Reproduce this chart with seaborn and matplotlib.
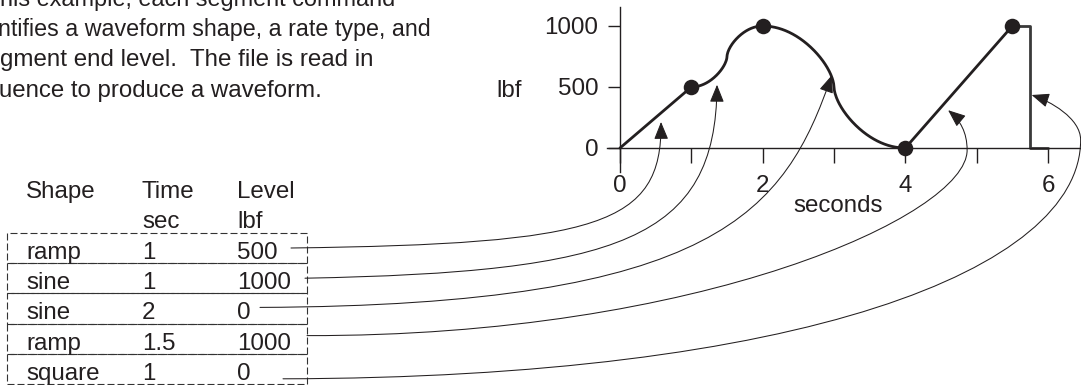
import numpy as np
import pandas as pd
import matplotlib
matplotlib.use("Agg")
import matplotlib.pyplot as plt
import seaborn as sns
from matplotlib.path import Path
from matplotlib.patches import FancyArrowPatch, Rectangle
from matplotlib.transforms import IdentityTransform

# ---- segment table -------------------------------------------------------
shapes = ["ramp", "sine", "sine", "ramp", "square"]
durations = [1, 1, 2, 1.5, 1]
end_levels = [500, 1000, 0, 1000, 0]
time_labels = ["1", "1", "2", "1.5", "1"]
level_labels = ["500", "1000", "0", "1000", "0"]
start_level = 0

x_ticks = [0, 2, 4, 6]
x_minor_ticks = [1, 3, 5]
y_ticks = [0, 500, 1000]

# time (s) on the waveform that each leader arrow points at
arrow_times = [0.575, 1.36, 2.97, 4.6, 5.75]

intro_lines = [
    "his example, each segment command",
    "ntifies a waveform shape, a rate type, and",
    "gment end level.  The file is read in",
    "uence to produce a waveform.",
]

# ---- drawing helpers -----------------------------------------------------
INK = "#231f20"
SQUARE_INK = "#3a3a3a"
SINE_SHARP = 0.6      # steepness of the drawn sine transitions
SQUARE_SPAN = 0.5     # square pulse drawn over half its duration

W, H, DPI = 1081, 385, 100


def sine_frac(u):
    c = -np.cos(np.pi * np.asarray(u, dtype=float))
    return 0.5 + 0.5 * np.sign(c) * np.abs(c) ** SINE_SHARP


def segment_curve(shape, t0, t1, v0, v1):
    if shape == "ramp":
        return np.array([t0, t1]), np.array([v0, v1], dtype=float)
    if shape == "sine":
        u = np.linspace(0, 1, 200)
        return t0 + u * (t1 - t0), v0 + sine_frac(u) * (v1 - v0)
    span = (t1 - t0) * SQUARE_SPAN
    tm = t0 + span / 2
    return np.array([t0, tm, tm, t0 + span]), np.array([v0, v0, v1, v1], dtype=float)


bounds = np.concatenate([[0], np.cumsum(durations)])
levels_from = [start_level] + end_levels[:-1]


def level_at(t):
    for k, shape in enumerate(shapes):
        t0, t1 = bounds[k], bounds[k + 1]
        if t0 <= t <= t1:
            v0, v1 = levels_from[k], end_levels[k]
            u = (t - t0) / (t1 - t0)
            if shape == "ramp":
                return v0 + u * (v1 - v0)
            if shape == "sine":
                return v0 + float(sine_frac(u)) * (v1 - v0)
            return (v0 + v1) / 2
    return end_levels[-1]


main_parts, square_parts = [], []
for k, shape in enumerate(shapes):
    tt, vv = segment_curve(shape, bounds[k], bounds[k + 1], levels_from[k], end_levels[k])
    seg = pd.DataFrame({"t": tt, "v": vv})
    (square_parts if shape == "square" else main_parts).append(seg)
wave_main = pd.concat(main_parts, ignore_index=True)
wave_square = pd.concat(square_parts, ignore_index=True)
knots = pd.DataFrame({"t": bounds[1:5], "v": end_levels[:4]})

# ---- figure --------------------------------------------------------------
sns.set_theme(style="white")
plt.rcParams["font.family"] = ["Liberation Sans", "DejaVu Sans"]
plt.rcParams["text.color"] = INK
FS = 17.4

fig = plt.figure(figsize=(W / DPI, H / DPI), dpi=DPI)
renderer = fig.canvas.get_renderer()


def fx(x):
    return x / W


def fy(y):
    return 1 - y / H


# chart area in pixels: left 607, right 1081, top 7, bottom 172
ax = fig.add_axes([fx(607), fy(172), (W - 607) / W, (172 - 7) / H])
ax.set_facecolor("none")
PX_S = 71.33      # pixels per second
PX_V = 0.122      # pixels per lbf
ax.set_xlim((607 - 620) / PX_S, (W - 620) / PX_S)
ax.set_ylim(-(172 - 148) / PX_V, (148 - 7) / PX_V)

sns.lineplot(data=wave_main, x="t", y="v", sort=False, estimator=None,
             color=INK, lw=2.0, ax=ax, solid_capstyle="round")
sns.lineplot(data=wave_square, x="t", y="v", sort=False, estimator=None,
             color=SQUARE_INK, lw=2.0, ax=ax)
sns.scatterplot(data=knots, x="t", y="v", s=125, color=INK, edgecolor=INK,
                linewidth=0, zorder=5, ax=ax)

for side in ("top", "right"):
    ax.spines[side].set_visible(False)
for side in ("left", "bottom"):
    ax.spines[side].set_position(("data", 0))
    ax.spines[side].set_color(INK)
    ax.spines[side].set_linewidth(1.0)

ax.set_xticks(x_ticks)
ax.set_xticks(x_minor_ticks, minor=True)
ax.set_xticklabels([str(v) for v in x_ticks])
ax.set_yticks(y_ticks)
ax.set_yticklabels([str(v) for v in y_ticks])
ax.tick_params(axis="x", which="both", bottom=True, direction="out",
               length=10.8, width=1.0, color=INK, pad=9, labelsize=FS,
               labelcolor=INK)
ax.tick_params(axis="y", which="both", left=True, direction="out",
               length=8.6, width=1.0, color=INK, pad=7.2, labelsize=FS,
               labelcolor=INK)
ax.grid(False)

ax.set_xlabel("seconds", fontsize=FS, color=INK)
ax.xaxis.label.set_verticalalignment("baseline")
ax.xaxis.set_label_coords((838 - 607) / 474, (172 - 212.5) / 165)
ax.set_ylabel("lbf", fontsize=FS, color=INK, rotation=0)
ax.yaxis.label.set_verticalalignment("baseline")
ax.yaxis.label.set_horizontalalignment("center")
ax.yaxis.set_label_coords((509 - 607) / 474, (172 - 96.7) / 165)

# ---- intro paragraph (right-aligned, shrunk to fit the left margin) -----
intro_right = [395, 431, 374, 322]
for k, line in enumerate(intro_lines):
    txt = fig.text(fx(intro_right[k]), fy(6 + 30.2 * k), line, ha="right",
                   va="baseline", fontsize=FS, color=INK)
    width = txt.get_window_extent(renderer).width
    room = intro_right[k] - 1
    if width > room:
        txt.set_fontsize(FS * room / width)

# ---- segment table -------------------------------------------------------
COL_X = [26, 142, 237]
for x, s in zip(COL_X, ["Shape", "Time", "Level"]):
    fig.text(fx(x), fy(198), s, ha="left", va="baseline", fontsize=FS)
for x, s in zip(COL_X[1:], ["sec", "lbf"]):
    fig.text(fx(x), fy(228.5), s, ha="left", va="baseline", fontsize=FS)

ROW_BASE = 259
ROW_STEP = 30.2
BOX_TOP = 233
BOX_H = 30.2
for i, (sh, tl, lv) in enumerate(zip(shapes, time_labels, level_labels)):
    base = ROW_BASE + ROW_STEP * i
    for x, s in zip(COL_X, [sh, tl, lv]):
        fig.text(fx(x), fy(base), s, ha="left", va="baseline", fontsize=FS)
    top = BOX_TOP + BOX_H * i
    fig.add_artist(Rectangle((fx(7), fy(top + BOX_H)), fx(300), BOX_H / H,
                             transform=fig.transFigure, fill=False,
                             edgecolor="#333333", lw=0.8,
                             linestyle=(0, (6.3, 2.7))))

# ---- leader arrows from table rows to the waveform -----------------------
# start: (x px, offset from row baseline); tip: pixel offset from the curve;
# ctrl: Bezier control points as ("S"|"E", dx, dy) offsets from start/tip
leaders = [
    dict(start=(291, -11), tip=(0, 9),
         ctrl=[("S", 309, -4), ("E", 1, 103), ("E", 0, 0)]),
    dict(start=(305, -11), tip=(0, 10),
         ctrl=[("S", 315, -6), ("E", -1, 155), ("E", 0, 0)]),
    dict(start=(260, -12), tip=(0, -2),
         ctrl=[("S", 460, -2), ("E", -47, 135), ("E", 0, 0)]),
    dict(start=(307, -14), tip=(0, 11),
         ctrl=[("S", 393, 1), ("E", 19, 105), ("E", 19, 40),
               ("E", 19, 22), ("E", 12, 10), ("E", 0, 0)]),
    dict(start=(283, -1), tip=(1.5, 8),
         ctrl=[("S", 517, -1), ("E", 49, 175), ("E", 49, 45),
               ("E", 49, 23), ("E", 18, 6), ("E", 0, 0)]),
]

for i, ld in enumerate(leaders):
    sx, sdy = ld["start"]
    S = np.array([sx, ROW_BASE + ROW_STEP * i + sdy])
    t = arrow_times[i]
    px, py = ax.transData.transform((t, level_at(t)))
    E = np.array([px, H - py]) + np.array(ld["tip"])
    pts = [S] + [(S if ref == "S" else E) + np.array([dx, dy])
                 for ref, dx, dy in ld["ctrl"]]
    verts = [(p[0], H - p[1]) for p in pts]
    codes = [Path.MOVETO] + [Path.CURVE4] * (len(verts) - 1)
    fig.add_artist(FancyArrowPatch(
        path=Path(verts, codes),
        arrowstyle="-|>,head_length=0.54,head_width=0.22",
        mutation_scale=20, lw=0.75, color=INK,
        transform=IdentityTransform(), zorder=6))

fig.savefig("out.png", dpi=DPI)
